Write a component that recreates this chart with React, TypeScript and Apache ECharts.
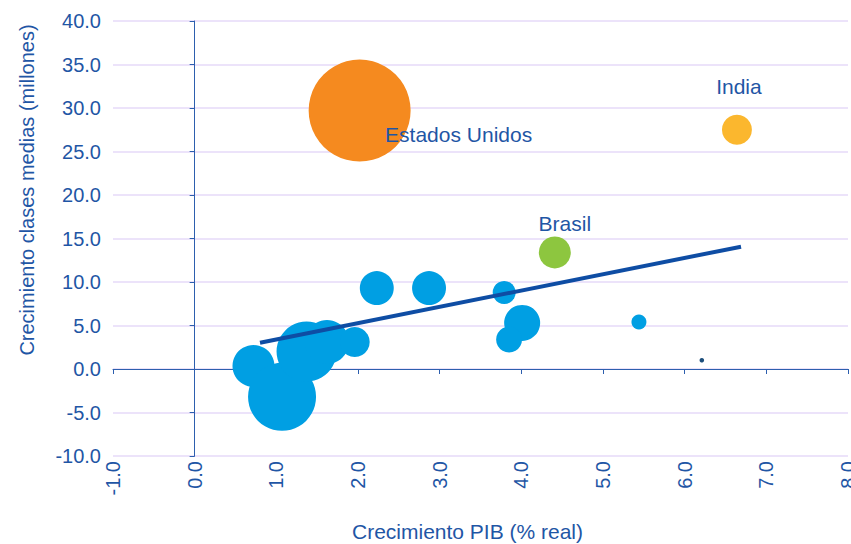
import React, { useEffect, useRef } from "react";
import * as echarts from "echarts";

// ---- data ----
const xTickMin = -1;
const xTickMax = 8;
const yTickMin = -10;
const yTickMax = 40;

// other countries (blue bubbles)
const otherGdpGrowth = [2.23, 2.87, 3.79, 4.01, 3.85, 5.44, 6.21, 0.72, 1.07, 1.37, 1.62, 1.96];
const otherMiddleClassGrowth = [9.3, 9.3, 8.8, 5.3, 3.4, 5.4, 1.0, 0.35, -3.2, 2.0, 3.1, 3.1];
const otherBubbleSize = [72, 72, 33, 81, 42, 14, 1.3, 110, 289, 225, 121, 56];

// highlighted countries
const highlightNames = ["Estados Unidos", "India", "Brasil"];
const highlightGdpGrowth = [2.02, 6.64, 4.41];
const highlightMiddleClassGrowth = [29.7, 27.5, 13.4];
const highlightBubbleSize = [650, 56, 64];

// trend line (start, end)
const trendX = [0.8, 6.69];
const trendY = [3.02, 14.06];

const FONT = "'Liberation Sans', Arial, sans-serif";
const TEXT = "#1f56a5";
const AXIS = "#2d5fae";
const GRID = "#e6daf8";
const BLUE = "#009fe3";
const HIGHLIGHT_COLORS = ["#f58a1f", "#fbb72e", "#8dc63f"];
const LABEL_OFFSETS: [number, number][] = [
  [99, 24],
  [2, -43],
  [10, -29],
];

const fmt = (v: number) => v.toFixed(1);

export default function App() {
  const ref = useRef<HTMLDivElement>(null);

  useEffect(() => {
    if (!ref.current) return;
    const chart = echarts.init(ref.current, undefined, { renderer: "svg" });

    const sizeFn = (val: number[]) => Math.sqrt(val[2]) * 4;

    const blueData = otherGdpGrowth.map((x, i) => {
      const item: any = { value: [x, otherMiddleClassGrowth[i], otherBubbleSize[i]] };
      if (otherBubbleSize[i] < 2) item.itemStyle = { color: "#1d4f7c" };
      return item;
    });

    const highlightSeries = highlightNames.map((name, i) => ({
      type: "scatter",
      name,
      xAxisIndex: 0,
      yAxisIndex: 0,
      symbol: "circle",
      symbolSize: sizeFn,
      itemStyle: { color: HIGHLIGHT_COLORS[i], opacity: 1 },
      label: {
        show: true,
        position: "inside",
        offset: LABEL_OFFSETS[i],
        formatter: name,
        fontSize: 21,
        fontFamily: FONT,
        color: TEXT,
      },
      emphasis: { disabled: true },
      data: [[highlightGdpGrowth[i], highlightMiddleClassGrowth[i], highlightBubbleSize[i]]],
      z: 3,
    }));

    chart.setOption({
      animation: false,
      backgroundColor: "#ffffff",
      grid: { left: 113, right: 3, top: 21, bottom: 88, containLabel: false, outerBoundsMode: "none" },
      xAxis: [
        {
          type: "value",
          min: xTickMin,
          max: xTickMax,
          interval: 1,
          position: "bottom",
          axisLine: { show: true, onZero: true, onZeroAxisIndex: 0, lineStyle: { color: AXIS, width: 1 } },
          axisTick: { show: true, length: 5, lineStyle: { color: AXIS, width: 1 } },
          axisLabel: { show: false },
          splitLine: { show: false },
        },
        {
          type: "value",
          min: xTickMin,
          max: xTickMax,
          interval: 1,
          position: "bottom",
          axisLine: { show: false, onZero: false },
          axisTick: { show: false },
          axisLabel: {
            show: true,
            rotate: 90,
            margin: 5,
            fontSize: 20,
            fontFamily: FONT,
            color: TEXT,
            padding: [0, 0, 8, 0],
            hideOverlap: false,
            formatter: fmt,
          },
          splitLine: { show: false },
        },
      ],
      yAxis: [
        {
          type: "value",
          min: yTickMin,
          max: yTickMax,
          interval: 5,
          position: "left",
          axisLine: { show: true, onZero: true, onZeroAxisIndex: 0, lineStyle: { color: AXIS, width: 1 } },
          axisTick: { show: true, length: 5, lineStyle: { color: AXIS, width: 1 } },
          axisLabel: { show: false },
          splitLine: { show: true, lineStyle: { color: GRID, width: 1.5 } },
        },
        {
          type: "value",
          min: yTickMin,
          max: yTickMax,
          interval: 5,
          position: "left",
          axisLine: { show: false, onZero: false },
          axisTick: { show: false },
          axisLabel: {
            show: true,
            margin: 12,
            fontSize: 20,
            fontFamily: FONT,
            color: TEXT,
            formatter: fmt,
          },
          splitLine: { show: false },
        },
      ],
      graphic: [
        {
          type: "text",
          x: 467.5,
          y: 531,
          style: {
            text: "Crecimiento PIB (% real)",
            fontSize: 21,
            fontFamily: FONT,
            fill: TEXT,
            align: "center",
            verticalAlign: "middle",
          },
        },
        {
          type: "text",
          x: 27,
          y: 190,
          rotation: Math.PI / 2,
          style: {
            text: "Crecimiento clases medias (millones)",
            fontSize: 20,
            fontFamily: FONT,
            fill: TEXT,
            align: "center",
            verticalAlign: "middle",
          },
        },
      ],
      series: [
        {
          type: "scatter",
          name: "Otros",
          xAxisIndex: 0,
          yAxisIndex: 0,
          symbol: "circle",
          symbolSize: sizeFn,
          itemStyle: { color: BLUE, opacity: 1 },
          emphasis: { disabled: true },
          data: blueData,
          z: 2,
        },
        ...highlightSeries,
        {
          type: "line",
          name: "Tendencia",
          xAxisIndex: 0,
          yAxisIndex: 0,
          showSymbol: false,
          symbol: "none",
          lineStyle: { color: "#0e4da4", width: 4 },
          emphasis: { disabled: true },
          data: trendX.map((x, i) => [x, trendY[i]]),
          z: 4,
        },
      ],
    });

    return () => chart.dispose();
  }, []);

  return (
    <div
      ref={ref}
      style={{ position: "fixed", left: 0, top: 0, width: 851, height: 544, background: "#fff" }}
    />
  );
}
